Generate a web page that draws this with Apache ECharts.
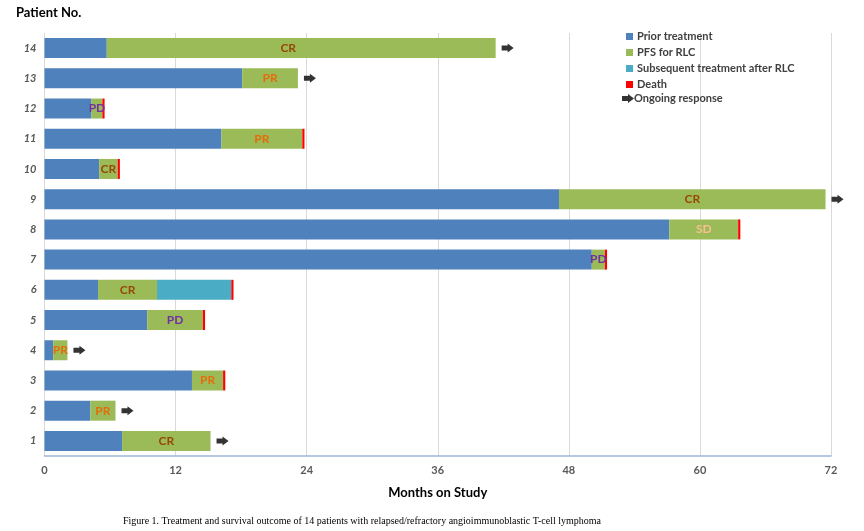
<!DOCTYPE html>
<html>
<head>
<meta charset="utf-8">
<script src="https://cdn.jsdelivr.net/npm/echarts@6/dist/echarts.min.js"></script>
<style>html,body{margin:0;padding:0;background:#fff}#c{width:864px;height:531px}</style>
</head>
<body>
<div id="c"></div>
<script>
// Patients 1..14 (bottom to top)
const patients = ['1','2','3','4','5','6','7','8','9','10','11','12','13','14'];
const priorTreatment = [7.1, 4.2, 13.5, 0.8, 9.4, 4.9, 50.1, 57.2, 47.1, 5.0, 16.2, 4.3, 18.1, 5.7];
const pfsForRLC      = [8.1, 2.3, 2.85, 1.3, 5.1, 5.4, 1.2, 6.3, 24.4, 1.7, 7.4, 1.0, 5.1, 35.6];
const subsequentTx   = [null, null, null, null, null, 6.8, null, null, null, null, null, null, null, null];
const death          = [null, null, 0.2, null, 0.2, 0.2, 0.2, 0.2, null, 0.2, 0.2, 0.2, null, null];
const ongoing        = [true, true, false, true, false, false, false, false, true, false, false, false, true, true];
const responses      = ['CR','PR','PR','PR','PD','CR','PD','SD','CR','CR','PR','PD','PR','CR'];
const xTicks = [0, 12, 24, 36, 48, 60, 72];

const respColors = {CR:'#984807', PR:'#E46C0A', PD:'#7030A0', SD:'#FAC090'};
const FONT = 'Lato';

const arrowData = [];
patients.forEach((p, i) => {
  if (ongoing[i]) {
    const end = (priorTreatment[i]||0) + (pfsForRLC[i]||0) + (subsequentTx[i]||0) + (death[i]||0);
    arrowData.push([end, p]);
  }
});

const arrowPath = 'path://M0,2 L6,2 L6,0 L12,4.5 L6,9 L6,7 L0,7 Z';

const chart = echarts.init(document.getElementById('c'));
const barW = 20;
chart.setOption({
  animation: false,
  textStyle: {fontFamily: FONT},
  grid: {left: 44.5, right: 33, top: 33, bottom: 75, containLabel: false},
  title: [{
    text: 'Patient No.', left: 11, top: 1,
    textStyle: {fontFamily: FONT, fontSize: 13, fontWeight: 'bold', color: '#000'}
  }],
  graphic: [{
    type: 'text', left: 123, top: 516,
    style: {text: 'Figure 1. Treatment and survival outcome of 14 patients with relapsed/refractory angioimmunoblastic T-cell lymphoma',
      font: '10px "Liberation Serif", serif', fill: '#000'}
  }],
  legend: [{
    orient: 'vertical', left: 621, top: 26,
    itemWidth: 7, itemHeight: 7, itemGap: 5,
    icon: 'rect',
    data: ['Prior treatment', 'PFS for RLC', 'Subsequent treatment after RLC', 'Death'],
    textStyle: {fontFamily: FONT, fontSize: 11, fontWeight: 'bold', color: '#404040', padding: [0,0,0,-1]}
  }, {
    orient: 'vertical', left: 617, top: 88,
    itemWidth: 12, itemHeight: 9,
    data: [{name: 'Ongoing response', icon: arrowPath}],
    textStyle: {fontFamily: FONT, fontSize: 11, fontWeight: 'bold', color: '#404040', padding: [0,0,0,-5]}
  }],
  xAxis: {
    type: 'value', min: 0, max: 72, interval: 12,
    name: 'Months on Study', nameLocation: 'middle', nameGap: 30,
    nameTextStyle: {fontFamily: FONT, fontSize: 13, fontWeight: 'bold', color: '#000'},
    axisLine: {show: true, lineStyle: {color: '#9DB6D6', width: 1.5}},
    axisTick: {show: false},
    splitLine: {show: true, lineStyle: {color: '#D9D9D9', width: 1}},
    axisLabel: {fontFamily: FONT, fontSize: 11, fontWeight: 'bold', color: '#595959', margin: 9,
      formatter: v => xTicks.includes(v) ? String(v) : ''}
  },
  yAxis: {
    type: 'category', data: patients,
    axisLine: {show: false}, axisTick: {show: false},
    splitLine: {show: false},
    axisLabel: {fontFamily: FONT, fontSize: 11, fontWeight: 'bold', fontStyle: 'italic', color: '#595959', margin: 8}
  },
  series: [{
    name: 'Prior treatment', type: 'bar', stack: 's', barWidth: barW,
    itemStyle: {color: '#4F81BD'}, data: priorTreatment
  }, {
    name: 'PFS for RLC', type: 'bar', stack: 's', barWidth: barW,
    itemStyle: {color: '#9BBB59'},
    data: pfsForRLC.map((v, i) => ({
      value: v,
      label: {show: true, position: 'inside', formatter: responses[i],
        offset: i === 13 ? [-13, 0] : [0, 0],
        color: respColors[responses[i]], fontFamily: FONT, fontSize: 12, fontWeight: 'bold'}
    }))
  }, {
    name: 'Subsequent treatment after RLC', type: 'bar', stack: 's', barWidth: barW,
    itemStyle: {color: '#4BACC6'}, data: subsequentTx
  }, {
    name: 'Death', type: 'bar', stack: 's', barWidth: barW,
    itemStyle: {color: '#FF0000'}, data: death
  }, {
    name: 'Ongoing response', type: 'scatter',
    symbol: arrowPath, symbolSize: [12, 9], symbolOffset: [12, 0],
    itemStyle: {color: '#000'}, data: arrowData, z: 5
  }]
});
</script>
</body>
</html>
